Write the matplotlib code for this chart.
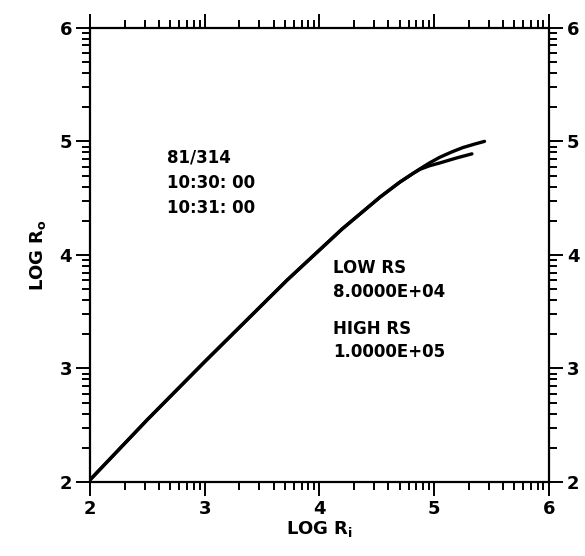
import numpy as np
import matplotlib.pyplot as plt
from matplotlib.ticker import FixedLocator

plt.rcParams['font.family'] = ['DejaVu Sans']
plt.rcParams['mathtext.default'] = 'regular'

# Curve for 10:30:00 (upper branch) and 10:31:00 (lower branch), log10 values
log_ri_a = [2.0, 2.5, 3.0, 3.72, 4.2, 4.53, 4.7, 4.82, 4.88, 4.96, 5.05, 5.15, 5.25, 5.35, 5.44]
log_ro_a = [2.02, 2.55, 3.06, 3.78, 4.23, 4.51, 4.64, 4.72, 4.76, 4.81, 4.86, 4.905, 4.945, 4.975, 5.0]
log_ri_b = [2.0, 2.5, 3.0, 3.72, 4.2, 4.53, 4.7, 4.82, 4.88, 4.96, 5.05, 5.20, 5.33]
log_ro_b = [2.02, 2.55, 3.06, 3.78, 4.23, 4.51, 4.64, 4.72, 4.755, 4.785, 4.81, 4.855, 4.89]

major_ticks = [2, 3, 4, 5, 6]
header_lines = ['81/314', '10:30: 00', '10:31: 00']
rs_lines = ['LOW RS', '8.0000E+04', 'HIGH RS', '1.0000E+05']

fig = plt.figure(figsize=(5.85, 5.56), dpi=100)
ax = fig.add_axes([0.154, 0.133, 0.784, 0.817])

ax.plot(log_ri_a, log_ro_a, color='black', lw=2.4, solid_capstyle='round')
ax.plot(log_ri_b, log_ro_b, color='black', lw=2.4, solid_capstyle='round')

ax.set_xlim(2, 6)
ax.set_ylim(2, 6)

# log-cycle minor ticks inside each decade
minor = [d + np.log10(k) for d in major_ticks[:-1] for k in range(2, 10)]
for axis in (ax.xaxis, ax.yaxis):
    axis.set_major_locator(FixedLocator(major_ticks))
    axis.set_minor_locator(FixedLocator(minor))

ax.tick_params(which='both', direction='out', top=True, right=True,
               labelright=True, labeltop=False, width=1.4, colors='black')
ax.tick_params(which='major', length=10, labelsize=13, pad=3)
ax.tick_params(which='minor', length=6)
for t in ax.xaxis.get_major_ticks() + ax.yaxis.get_major_ticks():
    t.label1.set_fontweight('bold')
    t.label2.set_fontweight('bold')

for s in ax.spines.values():
    s.set_linewidth(1.6)

ax.set_xlabel('LOG R$_i$', fontsize=13, fontweight='bold', labelpad=1)
ax.set_ylabel('LOG R$_o$', fontsize=13, fontweight='bold', labelpad=8)

for i, line in enumerate(header_lines):
    ax.text(2.67, 4.86 - i * 0.225, line, fontsize=12, fontweight='bold',
            va='center', ha='left')

rs_y = [3.885, 3.67, 3.35, 3.145]
for line, y in zip(rs_lines, rs_y):
    ax.text(4.12, y, line, fontsize=12, fontweight='bold', va='center', ha='left')

fig.savefig('out.png', dpi=100)
